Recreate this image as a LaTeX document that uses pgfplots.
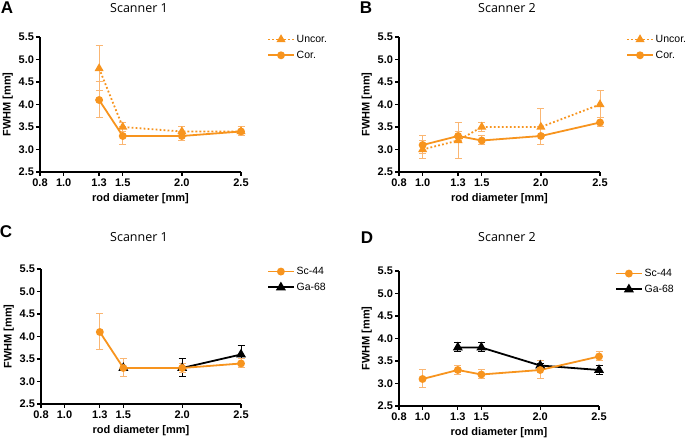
\documentclass[border=0pt]{standalone}
\usepackage{pgfplots}
\pgfplotsset{compat=1.18}
\usepackage{fontspec}
\setmainfont{Liberation Sans}
\newfontfamily\titlefont{Open Sans}
\definecolor{orng}{RGB}{247,148,30}
\definecolor{orngl}{RGB}{250,182,115}

\pgfplotsset{
 gp/.style={
  scale only axis, width=201pt, height=135pt,
  xmin=0.8, xmax=2.5, ymin=2.5, ymax=5.5,
  axis lines*=left,
  axis line style={line width=1.3pt, black},
  xtick={0.8,1.0,1.3,1.5,2.0,2.5},
  xticklabels={0.8,1.0,1.3,1.5,2.0,2.5},
  ytick={2.5,3.0,3.5,4.0,4.5,5.0,5.5},
  yticklabels={2.5,3.0,3.5,4.0,4.5,5.0,5.5},
  tick align=outside, major tick length=4pt,
  tick style={line width=1.3pt, black},
  ticklabel style={font=\fontsize{11}{12}\selectfont\bfseries},
  yticklabel style={xshift=1.5pt},
  xticklabel style={yshift=0.5pt},
  label style={font=\fontsize{11}{13}\selectfont\bfseries},
  xlabel={rod diameter [mm]}, ylabel={FWHM [mm]},
  xlabel style={yshift=0pt},
  ylabel style={yshift=-1pt},
  clip=false,
  legend style={draw=none, fill=none, font=\fontsize{10.5}{12}\selectfont,
    at={(1.13,1.03)}, anchor=north west, row sep=3pt, inner sep=0pt},
  legend cell align=left,
  legend image code/.code={\draw[mark repeat=2,mark phase=2,##1] plot coordinates {(0cm,0cm) (0.45cm,0cm) (0.9cm,0cm)};},
 },
 orstyle/.style={orng, line width=1.8pt, mark=*, mark size=3pt,
   error bars/.cd, y dir=both, y explicit,
   error bar style={orngl, line width=1pt, solid},
   error mark options={orngl, rotate=90, mark size=3.5pt, line width=1pt, solid}},
 ordot/.style={orng, line width=1.8pt, dash pattern=on 1.8pt off 2.2pt, mark=triangle*, mark size=3.5pt, mark options={solid},
   error bars/.cd, y dir=both, y explicit,
   error bar style={orngl, line width=1pt, solid},
   error mark options={orngl, rotate=90, mark size=3.5pt, line width=1pt, solid}},
 blk/.style={black, line width=1.8pt, mark=triangle*, mark size=4pt,
   error bars/.cd, y dir=both, y explicit,
   error bar style={black, line width=1pt, solid},
   error mark options={black, rotate=90, mark size=3.5pt, line width=1pt, solid}},
}

\begin{document}
\begin{tikzpicture}[x=1pt,y=1pt]
\useasboundingbox (0,0) rectangle (685,441);

% Panel labels and titles
\node[font=\fontsize{17}{18}\selectfont\bfseries] at (7,433) {A};
\node[font=\fontsize{17}{18}\selectfont\bfseries] at (366,433) {B};
\node[font=\fontsize{17}{18}\selectfont\bfseries] at (6,209) {C};
\node[font=\fontsize{17}{18}\selectfont\bfseries] at (367,203) {D};
\node[font=\titlefont\fontsize{12.5}{14}\selectfont] at (139,433) {Scanner 1};
\node[font=\titlefont\fontsize{12.5}{14}\selectfont] at (507,433) {Scanner 2};
\node[font=\titlefont\fontsize{12.5}{14}\selectfont] at (139,204) {Scanner 1};
\node[font=\titlefont\fontsize{12.5}{14}\selectfont] at (507,204) {Scanner 2};

% A
\begin{axis}[gp, at={(40pt,269pt)}, anchor=south west]
\addplot[ordot] table[y error=e] {
x y e
1.3 4.8 0.5
1.5 3.5 0.1
2.0 3.4 0.1
2.5 3.4 0.1
};
\addlegendentry{Uncor.}
\addplot[orstyle] table[y error=e] {
x y e
1.3 4.1 0.4
1.5 3.3 0.2
2.0 3.3 0.1
2.5 3.4 0.1
};
\addlegendentry{Cor.}
\end{axis}

% B
\begin{axis}[gp, at={(399pt,269pt)}, anchor=south west]
\addplot[ordot] table[y error=e] {
x y e
1.0 3.0 0.2
1.3 3.2 0.4
1.5 3.5 0.1
2.0 3.5 0.4
2.5 4.0 0.3
};
\addlegendentry{Uncor.}
\addplot[orstyle] table[y error=e] {
x y e
1.0 3.1 0.2
1.3 3.3 0.1
1.5 3.2 0.1
2.0 3.3 0.2
2.5 3.6 0.1
};
\addlegendentry{Cor.}
\end{axis}

% C
\begin{axis}[gp, at={(41pt,37pt)}, anchor=south west, width=200pt, reverse legend]
\addplot[blk] table[y error=e] {
x y e
1.5 3.3 0.2
2.0 3.3 0.2
2.5 3.6 0.2
};
\addlegendentry{Ga-68}
\addplot[orstyle] table[y error=e] {
x y e
1.3 4.1 0.4
1.5 3.3 0.2
2.0 3.3 0.1
2.5 3.4 0.1
};
\addlegendentry{Sc-44}
\end{axis}

% D
\begin{axis}[gp, at={(399pt,35pt)}, anchor=south west, width=200pt, reverse legend,
  legend style={at={(1.08,1.03)}}]
\addplot[blk] table[y error=e] {
x y e
1.3 3.8 0.1
1.5 3.8 0.1
2.0 3.4 0.05
2.5 3.3 0.1
};
\addlegendentry{Ga-68}
\addplot[orstyle] table[y error=e] {
x y e
1.0 3.1 0.2
1.3 3.3 0.1
1.5 3.2 0.1
2.0 3.3 0.2
2.5 3.6 0.1
};
\addlegendentry{Sc-44}
\end{axis}
\end{tikzpicture}
\end{document}
